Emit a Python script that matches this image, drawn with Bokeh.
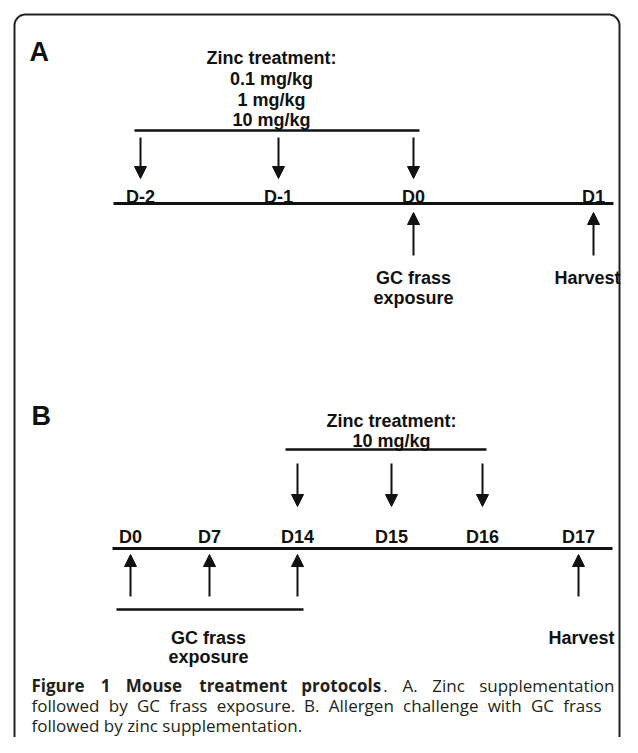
import numpy as np
from bokeh.plotting import figure
from bokeh.models import Range1d, Arrow, NormalHead, ColumnDataSource
from bokeh.core.properties import value
from bokeh.embed import file_html
from bokeh.resources import INLINE

# ---------------- data ----------------
# Panel A
a_days = ["D-2", "D-1", "D0", "D1"]
a_day_x = [140, 278, 413, 593]
a_zinc_days = ["D-2", "D-1", "D0"]
a_frass_days = ["D0"]
a_harvest_days = ["D1"]
a_zinc_lines = ["Zinc treatment:", "0.1 mg/kg", "1 mg/kg", "10 mg/kg"]

# Panel B
b_days = ["D0", "D7", "D14", "D15", "D16", "D17"]
b_day_x = [130, 209, 297, 391, 482, 578]
b_zinc_days = ["D14", "D15", "D16"]
b_frass_days = ["D0", "D7", "D14"]
b_harvest_days = ["D17"]
b_zinc_lines = ["Zinc treatment:", "10 mg/kg"]

frass_lines = ["GC frass", "exposure"]
harvest_label = "Harvest"

# caption: (word, bold?)  None = bold word followed by a regular "."
caption_l1 = [("Figure", True), ("1", True), ("Mouse", True), ("treatment", True),
              ("protocols.", None), ("A.", False), ("Zinc", False), ("supplementation", False)]
caption_l2 = ["followed", "by", "GC", "frass", "exposure.", "B.", "Allergen",
              "challenge", "with", "GC", "frass"]
caption_l3 = "followed by zinc supplementation."

# ---------------- figure ----------------
W, H = 622, 737
p = figure(width=W, height=H, x_range=Range1d(0, W), y_range=Range1d(H, 0),
           output_backend="svg", toolbar_location=None, min_border=0)
p.axis.visible = False
p.grid.visible = False
p.outline_line_color = None
p.background_fill_color = "white"
p.border_fill_color = "white"

INK = "#111111"
DFONT = value("Liberation Sans")
CFONT = value("Open Sans")

# frame (rounded top corners)
L, R, T, B, r = 14, 619, 14, 760, 11
ang1 = np.linspace(np.pi, 1.5 * np.pi, 12)
ang2 = np.linspace(1.5 * np.pi, 2 * np.pi, 12)
fx = np.concatenate([[L], L + r + r * np.cos(ang1), R - r + r * np.cos(ang2), [R]])
fy = np.concatenate([[B], T + r + r * np.sin(ang1), T + r + r * np.sin(ang2), [B]])
p.line(fx, fy, line_color="#222222", line_width=2)

# panel letters
p.text(x=[29, 31], y=[51, 415], text=["A", "B"], text_font=DFONT, text_font_style="bold",
       text_font_size="27px", text_color=INK, text_align="left", text_baseline="alphabetic")

def posmap(days, xs):
    return dict(zip(days, xs))

def add_arrows(xs, y0, y1):
    src = ColumnDataSource(dict(x=xs, y0=[y0] * len(xs), y1=[y1] * len(xs)))
    p.add_layout(Arrow(source=src, x_start="x", y_start="y0", x_end="x", y_end="y1",
                       line_width=2, line_color=INK,
                       end=NormalHead(size=12, fill_color=INK, line_color=INK, line_width=1)))

def lbl(xs, ys, texts, size="18px"):
    p.text(x=xs, y=ys, text=texts, text_font=DFONT, text_font_style="bold",
           text_font_size=size, text_color=INK, text_align="center",
           text_baseline="alphabetic")

# ---- Panel A ----
amap = posmap(a_days, a_day_x)
lbl([271] * len(a_zinc_lines), [57, 78, 99, 119], a_zinc_lines)
p.segment(x0=[134], y0=[130], x1=[419], y1=[130], line_width=2.5, line_color=INK)
add_arrows([amap[d] for d in a_zinc_days], 137, 178)
lbl(a_day_x, [196] * len(a_days), a_days)
p.segment(x0=[113], y0=[203], x1=[613], y1=[203], line_width=3, line_color=INK)
add_arrows([amap[d] for d in a_frass_days + a_harvest_days], 255, 212)
fx_a = amap[a_frass_days[0]]
lbl([fx_a, fx_a], [277, 297], frass_lines)
lbl([amap[a_harvest_days[0]] - 6], [277], [harvest_label])

# ---- Panel B ----
bmap = posmap(b_days, b_day_x)
zb = [bmap[d] for d in b_zinc_days]
lbl([391, 391], [420, 440], b_zinc_lines)
p.segment(x0=[285], y0=[449], x1=[486], y1=[449], line_width=2.5, line_color=INK)
add_arrows(zb, 463, 506)
lbl(b_day_x, [536] * len(b_days), b_days)
p.segment(x0=[112], y0=[548], x1=[612], y1=[548], line_width=3, line_color=INK)
add_arrows([bmap[d] for d in b_frass_days + b_harvest_days], 596, 554)
p.segment(x0=[116], y0=[609], x1=[303], y1=[609], line_width=2.5, line_color=INK)
lbl([208, 208], [637, 656], frass_lines)
lbl([bmap[b_harvest_days[0]] + 3], [637], [harvest_label])

# ---- Caption (justified lines) ----
CC = "#231f20"
FS = 17
CW = {' ': .26, 'a': .556, 'b': .613, 'c': .476, 'd': .613, 'e': .561, 'f': .336,
      'g': .548, 'h': .613, 'i': .253, 'k': .525, 'l': .253, 'm': .93, 'n': .613,
      'o': .601, 'p': .613, 'r': .408, 's': .477, 't': .353, 'u': .613, 'v': .5,
      'w': .786, 'x': .5, 'y': .501, 'z': .463, 'A': .633, 'B': .647, 'C': .631,
      'F': .555, 'G': .726, 'M': .907, 'Z': .568, '.': .268, '1': .571}

def wwidth(word, bold):
    w = sum(CW.get(c, .55) for c in word) * FS
    return w * (1.1 if bold else 1.0)

def justify(words, bolds, x0, x1):
    widths = [wwidth(w, b) for w, b in zip(words, bolds)]
    gap = (x1 - x0 - sum(widths)) / (len(words) - 1)
    xs, x = [], x0
    for w in widths:
        xs.append(x)
        x += w + gap
    return xs

def ctext(xs, ys, texts, bold):
    p.text(x=xs, y=ys, text=texts, text_font=CFONT,
           text_font_style="bold" if bold else "normal", text_font_size=f"{FS}px",
           text_color=CC, text_align="left", text_baseline="alphabetic")

Y1, Y2, Y3 = 685, 705, 725
w1 = [w if b is not None else "protocols." for w, b in caption_l1]
b1 = [True if b is None else b for w, b in caption_l1]
xs1 = justify(w1, b1, 31, 614)
bold_words = [w for (w, b) in caption_l1 if b]
bold_x = [x for x, (w, b) in zip(xs1, caption_l1) if b]
pi = [i for i, (w, b) in enumerate(caption_l1) if b is None][0]
bold_words.append("protocols")
bold_x.append(xs1[pi])
ctext(bold_x, [Y1] * len(bold_x), bold_words, True)
ctext([xs1[pi] + wwidth("protocols", True)], [Y1], ["."], False)
reg_words = [w for (w, b) in caption_l1 if b is False]
reg_x = [x for x, (w, b) in zip(xs1, caption_l1) if b is False]
ctext(reg_x, [Y1] * len(reg_x), reg_words, False)

xs2 = justify(caption_l2, [False] * len(caption_l2), 31, 601)
ctext(xs2, [Y2] * len(xs2), caption_l2, False)
ctext([31], [Y3], [caption_l3], False)

open("out.html", "w").write(file_html(p, INLINE))
